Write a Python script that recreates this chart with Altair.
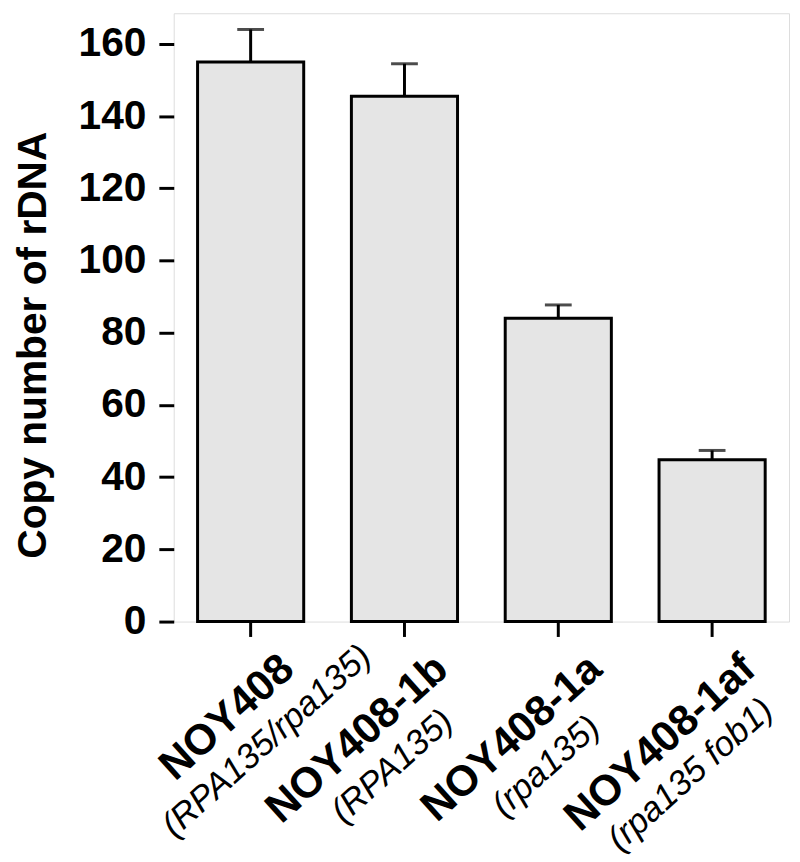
import altair as alt
import pandas as pd

strains = ["NOY408", "NOY408-1b", "NOY408-1a", "NOY408-1af"]
genotypes = ["(RPA135/rpa135)", "(RPA135)", "(rpa135)", "(rpa135  fob1)"]
copy_number = [155, 145.5, 84, 44.8]
error_upper = [164, 154.5, 87.7, 47.4]
y_ticks = [0, 20, 40, 60, 80, 100, 120, 140, 160]

df = pd.DataFrame({
    "strain": strains,
    "genotype": genotypes,
    "copies": copy_number,
    "upper": error_upper,
})

FONT = "Liberation Sans"

x_scale = alt.Scale(paddingInner=0.31, paddingOuter=0.155)
y_scale = alt.Scale(domain=[0, 168.5], nice=False, zero=True)

x_enc = alt.X(
    "strain:N", sort=strains, scale=x_scale,
    axis=alt.Axis(title=None, labels=False, domain=False, grid=False,
                  ticks=True, tickSize=15, tickWidth=3, tickColor="black"),
)
x_plain = alt.X("strain:N", sort=strains, scale=x_scale)

base = alt.Chart(df)

bars = base.mark_bar(fill="#e5e5e5", stroke="black", strokeWidth=3).encode(
    x=x_enc,
    y=alt.Y(
        "copies:Q", scale=y_scale,
        axis=alt.Axis(
            values=y_ticks, title="Copy number of rDNA", grid=False, domain=False,
            tickSize=15, tickWidth=3, tickColor="black",
            labelFont=FONT, labelFontSize=41, labelFontWeight="bold",
            labelColor="black", labelPadding=13,
            titleFont=FONT, titleFontSize=41, titleFontWeight="bold",
            titleColor="black", titleAngle=270, titleX=-129.5, titleY=334,
            titleBaseline="alphabetic", titleAlign="center",
        ),
    ),
)

err_rule = base.mark_rule(color="black", strokeWidth=3).encode(
    x=x_plain, y="copies:Q", y2="upper:Q"
)

err_cap = base.mark_tick(color="black", thickness=3, size=27).encode(
    x=x_plain, y="upper:Q"
)

name_text = base.mark_text(
    font=FONT, fontSize=43, fontWeight="bold", angle=318,
    align="right", baseline="alphabetic", dx=0, dy=69, color="black",
).encode(x=x_plain, y=alt.datum(0), text="strain:N")

# genotype line is centred under its strain name (shift ~ half the name's length)
geno_text = base.mark_text(
    font=FONT, fontSize=35, fontStyle="italic", angle=318,
    align="center", baseline="alphabetic",
    dx=alt.ExprRef("8 - 12.75 * length(datum.strain)"), dy=111, color="black",
).encode(x=x_plain, y=alt.datum(0), text="genotype:N")

chart = alt.layer(bars, err_rule, err_cap, name_text, geno_text).properties(
    width=620, height=613,
    autosize=alt.AutoSizeParams(type="none"),
    padding={"left": 167, "top": 2, "right": 3, "bottom": 238},
).configure_view(stroke="black", strokeWidth=3).configure(background="white")

chart.save("out.html", embed_options={"renderer": "svg", "actions": False})
